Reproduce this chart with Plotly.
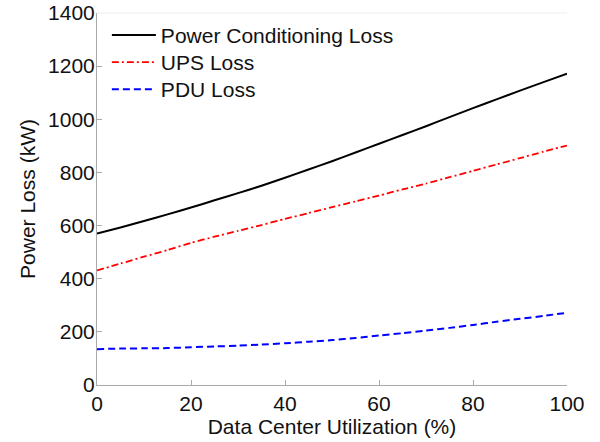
import plotly.graph_objects as go

utilization = [0, 5, 10, 15, 20, 25, 30, 35, 40, 45, 50, 55, 60, 65, 70, 75, 80, 85, 90, 95, 100]
power_conditioning_loss = [570, 593, 617, 642, 668, 695, 722, 750, 780, 811, 842, 875, 908, 941, 974, 1008, 1042, 1075, 1108, 1140, 1172]
ups_loss = [431, 457, 483, 508, 535, 558, 580, 602, 625, 647, 669, 691, 713, 736, 758, 782, 806, 830, 854, 878, 901]
pdu_loss = [135, 137, 138, 139, 142, 145, 148, 152, 157, 163, 169, 177, 186, 195, 205, 215, 226, 238, 249, 260, 272]

x_ticks = [0, 20, 40, 60, 80, 100]
y_ticks = [0, 200, 400, 600, 800, 1000, 1200, 1400]

fig = go.Figure()
fig.add_trace(go.Scatter(x=utilization, y=power_conditioning_loss, mode="lines",
                         name="Power Conditioning Loss", legend="legend",
                         line=dict(color="black", width=2, shape="spline", smoothing=0.6)))
fig.add_trace(go.Scatter(x=utilization, y=ups_loss, mode="lines",
                         name="UPS Loss", legend="legend2",
                         line=dict(color="red", width=1.8, dash="7px,3px,2px,3px", shape="spline", smoothing=0.6)))
fig.add_trace(go.Scatter(x=utilization, y=pdu_loss, mode="lines",
                         name="PDU Loss", legend="legend3",
                         line=dict(color="blue", width=2, dash="7px,4px", shape="spline", smoothing=0.6)))

font = "Liberation Sans, Arial, sans-serif"
fs = 21


def leg(y):
    return dict(x=0.021, y=y, xanchor="left", yanchor="top",
                bgcolor="rgba(0,0,0,0)", font=dict(size=fs, color="#111"),
                itemwidth=44, tracegroupgap=0)


fig.update_layout(
    width=600, height=442,
    margin=dict(l=97, r=33, t=13, b=57),
    paper_bgcolor="white", plot_bgcolor="white",
    font=dict(family=font, size=fs, color="#111"),
    showlegend=True,
    legend=leg(0.995),
    legend2=leg(0.922),
    legend3=leg(0.8495),
    shapes=[dict(type="line", xref="paper", yref="paper", x0=0, x1=1, y0=1, y1=1,
                 line=dict(color="#eeeeee", width=1))],
)
fig.update_xaxes(range=[0, 100], tickvals=x_ticks, ticks="inside", ticklen=5,
                 tickcolor="#aaaaaa", showline=True, linecolor="#aaaaaa", linewidth=1,
                 showgrid=False, zeroline=False, automargin=False,
                 tickfont=dict(size=fs, color="#111"),
                 title=dict(text="Data Center Utilization (%)", font=dict(size=fs, color="#111"), standoff=2))
fig.update_yaxes(range=[0, 1400], tickvals=y_ticks, ticks="inside", ticklen=5,
                 tickcolor="#aaaaaa", showline=True, linecolor="#aaaaaa", linewidth=1,
                 showgrid=False, zeroline=False, automargin=False, ticklabelstandoff=-3,
                 tickfont=dict(size=fs, color="#111"),
                 title=dict(text="Power Loss (kW)", font=dict(size=fs, color="#111"), standoff=6))

fig.write_html("out.html", config={"displayModeBar": False},
               post_script="document.body.style.margin='0';document.body.style.overflow='hidden';")
